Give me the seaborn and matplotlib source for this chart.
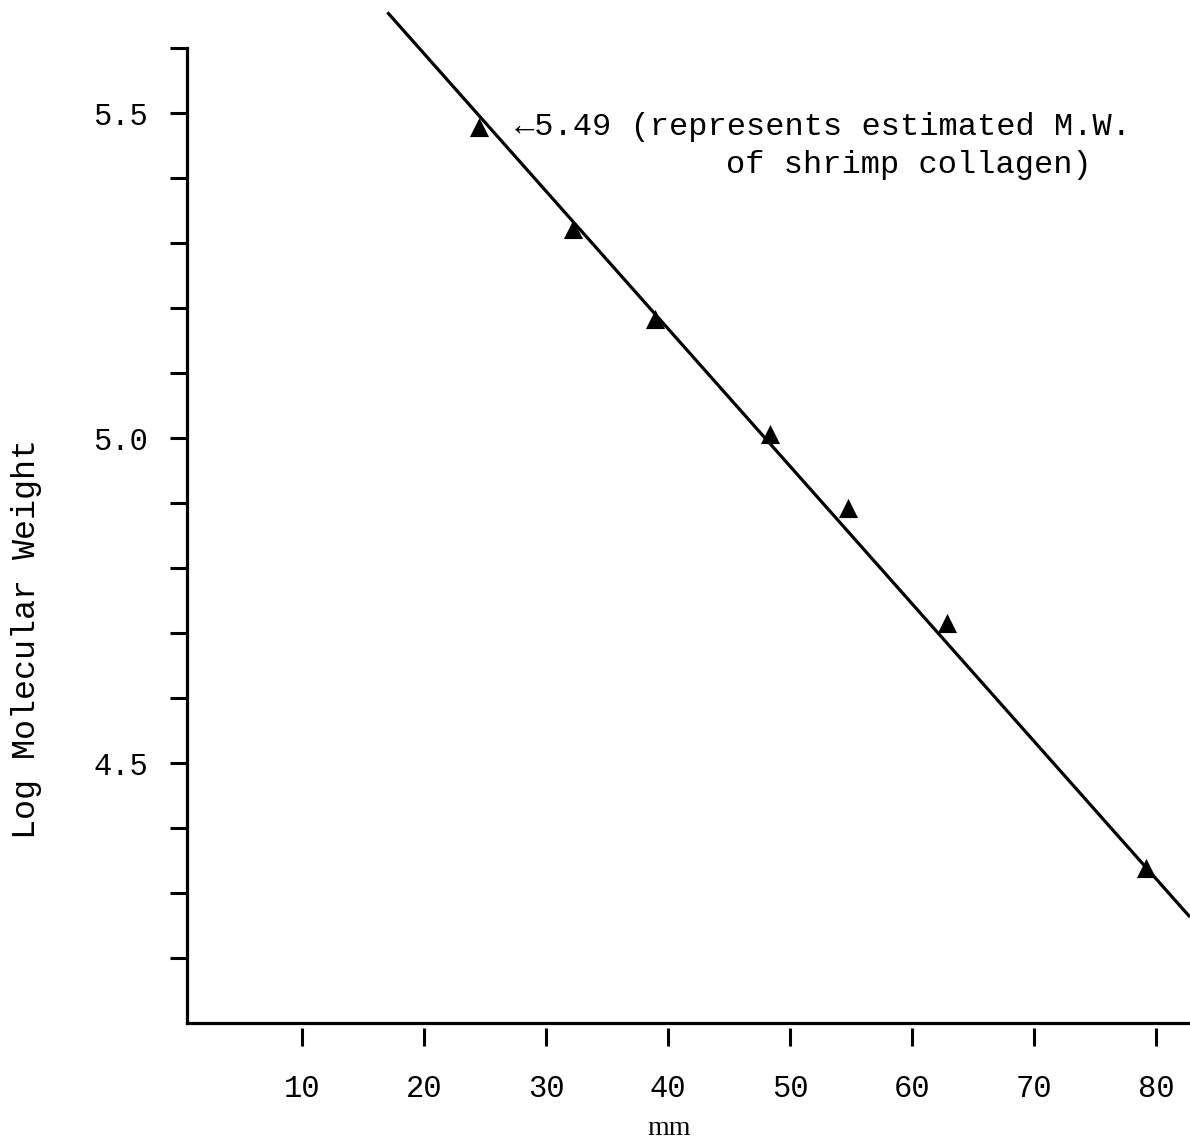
import numpy as np
import pandas as pd
import matplotlib
matplotlib.use("Agg")
import matplotlib.pyplot as plt
import seaborn as sns

# ---- data ----
mm = [24.5, 32.2, 38.9, 48.4, 54.8, 62.9, 79.2]
log_mw = [5.478, 5.322, 5.183, 5.006, 4.892, 4.715, 4.338]

# ends of the drawn standard line
fit_mm = [17.0, 82.8]
fit_logmw = [5.655, 4.263]

xticks = [10, 20, 30, 40, 50, 60, 70, 80]
yticks_major = [4.5, 5.0, 5.5]
yticks_minor = [4.2, 4.3, 4.4, 4.6, 4.7, 4.8, 4.9, 5.1, 5.2, 5.3, 5.4, 5.6]

note_line1 = "\u21905.49 (represents estimated M.W."
note_line2 = "of shrimp collagen)"

df = pd.DataFrame({"mm": mm, "logmw": log_mw})

# ---- style ----
sns.set_style("ticks")
mono = ["Liberation Mono", "DejaVu Sans Mono"]
plt.rcParams["font.family"] = mono
plt.rcParams["text.color"] = "black"
plt.rcParams["axes.labelcolor"] = "black"

fig = plt.figure(figsize=(11.9, 11.46), dpi=100)
ax = fig.add_axes([187 / 1190, 123 / 1146, 1003 / 1190, 1023 / 1146])

ax.plot(fit_mm, fit_logmw, color="black", lw=2.3, solid_capstyle="butt")
sns.scatterplot(data=df, x="mm", y="logmw", marker="^", s=190,
                color="black", edgecolor="black", linewidth=0, ax=ax, zorder=3)

ax.set_xlim(0.57, 82.8)
ax.set_ylim(4.1, 5.674)

# spines
for s in ["top", "right"]:
    ax.spines[s].set_visible(False)
ax.spines["left"].set_bounds(4.1, 5.6)
for s in ["left", "bottom"]:
    ax.spines[s].set_linewidth(2.3)
    ax.spines[s].set_color("black")

# y ticks
ax.set_yticks(yticks_major)
ax.set_yticklabels([f"{v:.1f}" for v in yticks_major], fontsize=22)
ax.set_yticks(yticks_minor, minor=True)
ax.tick_params(axis="y", which="both", direction="out", length=12,
               width=2.2, pad=16, color="black", labelcolor="black")

# x ticks drawn slightly below the axis line
ax.set_xticks([])
sec = ax.secondary_xaxis(-0.005)
sec.spines["bottom"].set_visible(False)
sec.set_xticks(xticks)
sec.set_xticklabels([str(v) for v in xticks], fontsize=22)
sec.tick_params(axis="x", direction="out", length=13, width=2.2, pad=20,
                color="black", labelcolor="black")

ax.set_xlabel("mm", fontsize=20, family=["Liberation Serif", "DejaVu Serif"])
ax.xaxis.set_label_coords(0.4806, -0.091)
ax.set_ylabel("Log Molecular Weight", fontsize=24)
ax.yaxis.set_label_coords(-0.1446, 0.375)

# annotation
ax.text(27.46, 5.478, note_line1, fontsize=23, va="center", ha="left")
ax.text(44.8, 5.42, note_line2, fontsize=23, va="center", ha="left")

fig.savefig("out.png", dpi=100, facecolor="white")
